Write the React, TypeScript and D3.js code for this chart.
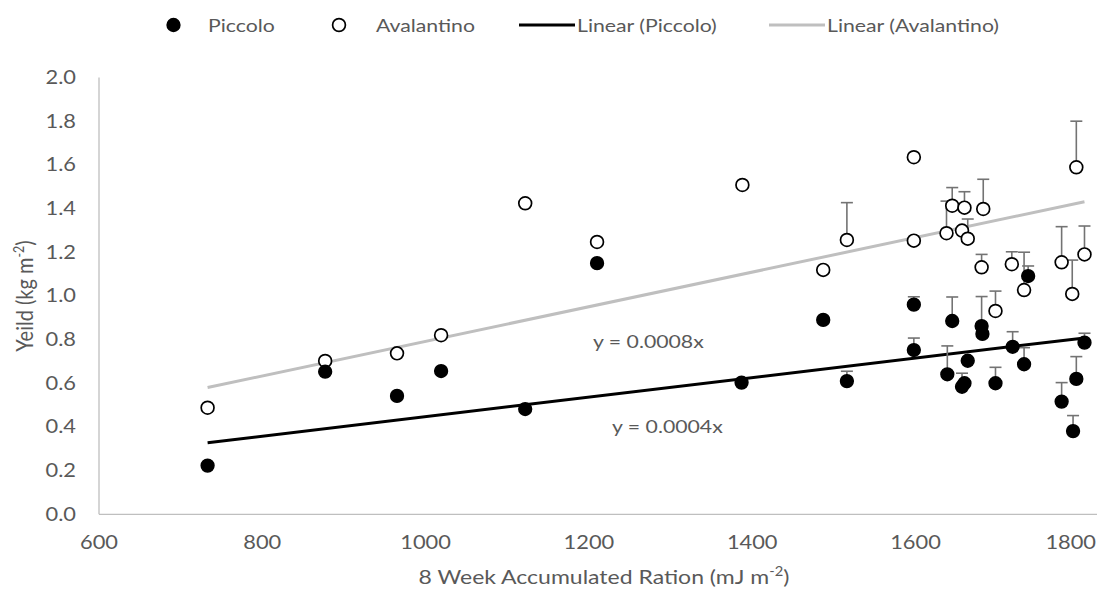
import React from 'react';
import * as d3 from 'd3';

// ---- data ----
const piccoloX = [733, 877, 965, 1019, 1122, 1210, 1387, 1487, 1516, 1598, 1598, 1639, 1645, 1657, 1660, 1664, 1681, 1682, 1698, 1719, 1733, 1738, 1779, 1793, 1797, 1807];
const piccoloY = [0.223, 0.653, 0.542, 0.656, 0.482, 1.15, 0.603, 0.89, 0.61, 0.96, 0.752, 0.641, 0.885, 0.584, 0.6, 0.703, 0.862, 0.826, 0.6, 0.767, 0.687, 1.091, 0.516, 0.381, 0.62, 0.786];
const piccoloErr = [0, 0, 0, 0, 0, 0, 0, 0, 0.045, 0.036, 0.055, 0.13, 0.11, 0.062, 0, 0, 0.135, 0, 0.073, 0.069, 0.076, 0.046, 0.087, 0.071, 0.102, 0.043];

const avalantinoX = [733, 877, 965, 1019, 1122, 1210, 1388, 1487, 1516, 1598, 1598, 1638, 1645, 1657, 1660, 1664, 1681, 1683, 1698, 1718, 1733, 1779, 1792, 1797, 1807];
const avalantinoY = [0.488, 0.702, 0.737, 0.82, 1.424, 1.247, 1.508, 1.119, 1.256, 1.635, 1.253, 1.287, 1.413, 1.299, 1.404, 1.262, 1.131, 1.398, 0.931, 1.145, 1.027, 1.154, 1.009, 1.589, 1.19];
const avalantinoErr = [0, 0, 0, 0, 0, 0, 0, 0, 0.171, 0, 0, 0.147, 0.083, 0, 0.073, 0.09, 0.059, 0.136, 0.091, 0.057, 0.173, 0.163, 0.155, 0.211, 0.13];

// linear trendlines through the origin
const piccoloSlope = 0.000447;
const avalantinoSlope = 0.000792;
const equationLabels = ['y = 0.0008x', 'y = 0.0004x'];

const xTicks = [600, 800, 1000, 1200, 1400, 1600, 1800];
const yTicks = [0, 0.2, 0.4, 0.6, 0.8, 1.0, 1.2, 1.4, 1.6, 1.8, 2.0];
const legendLabels = ['Piccolo', 'Avalantino', 'Linear (Piccolo)', 'Linear (Avalantino)'];

const FONT = 'Lato, "Open Sans", sans-serif';
const TXT = '#595959';
const SX = 1.18;

function T({ x, y, anchor = 'start', size = 17, rotate = 0, children }: any) {
  const tr = rotate
    ? `translate(${x},${y}) rotate(${rotate}) scale(1,${SX})`
    : `translate(${x},${y}) scale(${SX},1)`;
  return (
    <text transform={tr} textAnchor={anchor} fontFamily={FONT} fontSize={size} fill={TXT}>
      {children}
    </text>
  );
}

export default function App() {
  const W = 1097, H = 596;
  const x = d3.scaleLinear().domain([600, 1826]).range([99, 1100]);
  const y = d3.scaleLinear().domain([0, 2]).range([514.3, 77.5]);

  const pic = piccoloX.map((v, i) => ({ x: v, y: piccoloY[i], e: piccoloErr[i] }));
  const ava = avalantinoX.map((v, i) => ({ x: v, y: avalantinoY[i], e: avalantinoErr[i] }));

  const trend = (xs: number[], slope: number) => {
    const [a, b] = d3.extent(xs) as [number, number];
    return d3.line<[number, number]>().x(d => x(d[0])).y(d => y(d[1]))([[a, a * slope], [b, b * slope]]) || '';
  };

  const errBars = (pts: { x: number; y: number; e: number }[]) =>
    pts.filter(p => p.e > 0).map((p, i) => (
      <g key={i} stroke="#737373" strokeWidth={1.6}>
        <line x1={x(p.x)} x2={x(p.x)} y1={y(p.y)} y2={y(p.y + p.e)} />
        <line x1={x(p.x) - 6} x2={x(p.x) + 6} y1={y(p.y + p.e)} y2={y(p.y + p.e)} />
      </g>
    ));

  const R = 6.4;
  const TICK = 18.5;

  return (
    <svg width={W} height={H} style={{ position: 'absolute', left: 0, top: 0, background: '#fff' }}>
      <rect x={0} y={0} width={W} height={H} fill="#fff" />
      {/* axes */}
      <line x1={x(600)} x2={x(600)} y1={y(2)} y2={y(0)} stroke="#bfbfbf" strokeWidth={1.3} />
      <line x1={x(600)} x2={x(1826)} y1={y(0)} y2={y(0)} stroke="#bfbfbf" strokeWidth={1.3} />

      {yTicks.map(t => (
        <T key={t} x={76} y={y(t) + 6.5} anchor="end" size={TICK}>{t.toFixed(1)}</T>
      ))}
      {xTicks.map((t, i) => {
        const last = i === xTicks.length - 1;
        return (
          <T key={t} x={last ? W - 1 : x(t)} y={549} anchor={last ? 'end' : 'middle'} size={TICK}>{t}</T>
        );
      })}

      {/* trendlines */}
      <path d={trend(avalantinoX, avalantinoSlope)} stroke="#bfbfbf" strokeWidth={3} fill="none" />
      <path d={trend(piccoloX, piccoloSlope)} stroke="#000" strokeWidth={3} fill="none" />

      {/* error bars */}
      {errBars(ava)}
      {errBars(pic)}

      {/* markers */}
      {ava.map((p, i) => (
        <circle key={'a' + i} cx={x(p.x)} cy={y(p.y)} r={R} fill="#fff" stroke="#000" strokeWidth={1.7} />
      ))}
      {pic.map((p, i) => (
        <circle key={'p' + i} cx={x(p.x)} cy={y(p.y)} r={R} fill="#000" stroke="#000" strokeWidth={1.5} />
      ))}

      {/* equation labels */}
      <T x={593} y={348} size={18}>{equationLabels[0]}</T>
      <T x={612} y={433} size={18}>{equationLabels[1]}</T>

      {/* axis titles */}
      <T x={33} y={296} anchor="middle" rotate={-90} size={20}>
        Yeild (kg m<tspan dy={-8} fontSize={12.5}>-2</tspan><tspan dy={8}>)</tspan>
      </T>
      <T x={604} y={584} anchor="middle" size={19.5}>
        8 Week Accumulated Ration (mJ m<tspan dy={-8} fontSize={12.5}>-2</tspan><tspan dy={8}>)</tspan>
      </T>

      {/* legend */}
      <circle cx={173.5} cy={25} r={R} fill="#000" stroke="#000" strokeWidth={1.5} />
      <T x={208} y={31.5} size={18}>{legendLabels[0]}</T>
      <circle cx={339} cy={25} r={R} fill="#fff" stroke="#000" strokeWidth={1.7} />
      <T x={376} y={31.5} size={18}>{legendLabels[1]}</T>
      <line x1={519} x2={575} y1={25} y2={25} stroke="#000" strokeWidth={3} />
      <T x={577} y={31.5} size={18}>{legendLabels[2]}</T>
      <line x1={769} x2={825} y1={25} y2={25} stroke="#bfbfbf" strokeWidth={3} />
      <T x={827} y={31.5} size={18}>{legendLabels[3]}</T>
    </svg>
  );
}
